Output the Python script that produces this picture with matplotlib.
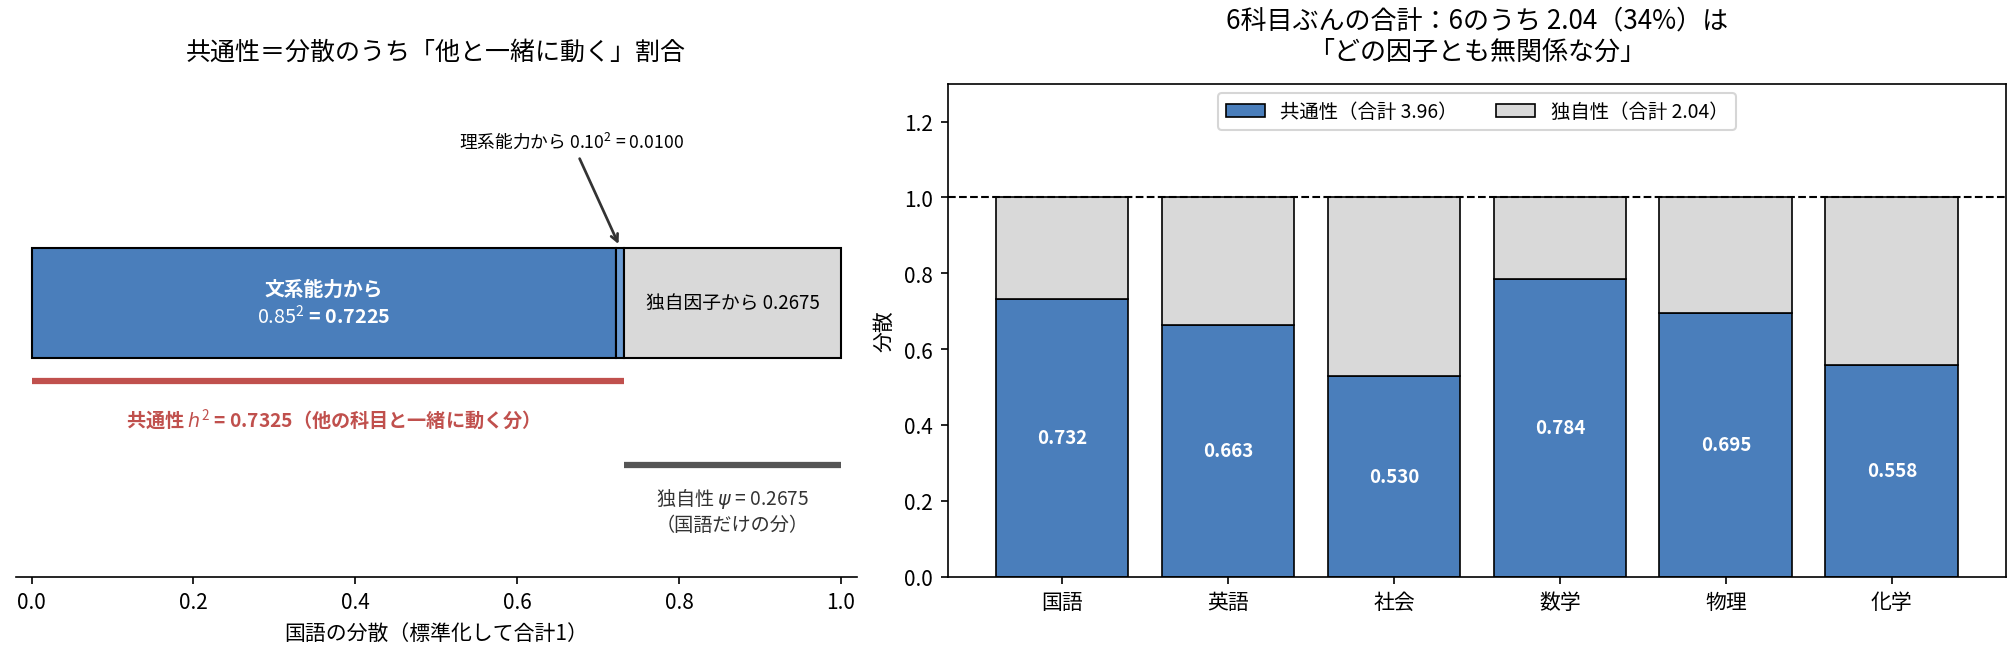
import numpy as np
import matplotlib
matplotlib.use("Agg")
import matplotlib.pyplot as plt

plt.rcParams["font.family"] = ["Noto Sans CJK JP", "DejaVu Sans"]
plt.rcParams["mathtext.fontset"] = "custom"
plt.rcParams["mathtext.rm"] = "Noto Sans CJK JP"
plt.rcParams["mathtext.it"] = "DejaVu Sans:italic"
plt.rcParams["mathtext.bf"] = "Noto Sans CJK JP:bold"
plt.rcParams["axes.unicode_minus"] = False

# 国語の分解
load_bunkei = 0.85
load_rikei = 0.10
h2_kokugo = load_bunkei ** 2 + load_rikei ** 2
psi_kokugo = 1 - h2_kokugo

# 6科目の共通性
kamoku = ["国語", "英語", "社会", "数学", "物理", "化学"]
kyotsusei = np.array([0.732, 0.663, 0.530, 0.784, 0.695, 0.558])
dokujisei = 1 - kyotsusei

BLUE = "#4a7ebb"
LIGHTBLUE = "#6b9bd2"
GREY = "#d9d9d9"
RED = "#c0504d"

fig = plt.figure(figsize=(13.42, 4.373), dpi=150)
ax1 = fig.add_axes([0.0077, 0.1194, 0.418, 0.7515])
ax2 = fig.add_axes([0.4707, 0.1194, 0.526, 0.7515])

# ---- 左：国語の分散の内訳
y_bar = 0.555
h_bar = 0.224
a = load_bunkei ** 2
b = load_rikei ** 2
ax1.barh(y_bar, a, left=0, height=h_bar, color=BLUE, edgecolor="black", lw=1)
ax1.barh(y_bar, b, left=a, height=h_bar, color=LIGHTBLUE, edgecolor="black", lw=1)
ax1.barh(y_bar, psi_kokugo, left=a + b, height=h_bar, color=GREY,
         edgecolor="black", lw=1)

ax1.text(a / 2, y_bar, f"文系能力から\n${load_bunkei:.2f}^2$ = {a:.4f}",
         ha="center", va="center", color="white", fontsize=9.5,
         fontweight="bold")
ax1.text(h2_kokugo + psi_kokugo / 2, y_bar, f"独自因子から {psi_kokugo:.4f}",
         ha="center", va="center", color="black", fontsize=9)

# 理系能力の小さな寄与は矢印で示す
ax1.annotate(f"理系能力から ${load_rikei:.2f}^2$ = {b:.4f}",
             xy=(a + b / 2, y_bar + h_bar / 2), xytext=(0.667, 0.885),
             ha="center", va="center", fontsize=8.5,
             arrowprops=dict(arrowstyle="->", color="#333333", lw=1.3))

ax1.plot([0, h2_kokugo], [0.396, 0.396], color=RED, lw=3, solid_capstyle="butt")
ax1.text(h2_kokugo / 2, 0.32,
         f"共通性 $h^2$ = {h2_kokugo:.4f}（他の科目と一緒に動く分）",
         ha="center", va="center", color=RED, fontsize=9.2, fontweight="bold")

ax1.plot([h2_kokugo, 1.0], [0.227, 0.227], color="#555555", lw=3,
         solid_capstyle="butt")
ax1.text(h2_kokugo + psi_kokugo / 2, 0.135,
         f"独自性 $\\psi$ = {psi_kokugo:.4f}\n（国語だけの分）",
         ha="center", va="center", color="#333333", fontsize=9.2)

ax1.set_xlim(-0.02, 1.02)
ax1.set_ylim(0, 1)
ax1.set_yticks([])
for s in ["top", "left", "right"]:
    ax1.spines[s].set_visible(False)
ax1.set_xlabel("国語の分散（標準化して合計1）")
ax1.set_title("共通性＝分散のうち「他と一緒に動く」割合", fontsize=12, pad=12)

# ---- 右：6科目の共通性と独自性
x = np.arange(len(kamoku))
ax2.bar(x, kyotsusei, width=0.8, color=BLUE, edgecolor="black", lw=0.8,
        label=f"共通性（合計 {kyotsusei.sum():.2f}）")
ax2.bar(x, dokujisei, width=0.8, bottom=kyotsusei, color=GREY,
        edgecolor="black", lw=0.8,
        label=f"独自性（合計 {dokujisei.sum():.2f}）")
for xi, v in zip(x, kyotsusei):
    ax2.text(xi, v / 2, f"{v:.3f}", ha="center", va="center",
             color="white", fontsize=9, fontweight="bold")
ax2.axhline(1.0, color="black", ls="--", lw=1)
ax2.set_xticks(x)
ax2.set_xticklabels(kamoku)
ax2.set_ylim(0, 1.3)
ax2.set_ylabel("分散")
ax2.legend(loc="upper center", ncol=2, fontsize=9.3)
ax2.set_title(
    f"6科目ぶんの合計：6のうち {dokujisei.sum():.2f}"
    f"（{dokujisei.sum() / len(kamoku) * 100:.0f}%）は\n「どの因子とも無関係な分」",
    fontsize=12.5, pad=12)

fig.savefig("out.png", dpi=150)
